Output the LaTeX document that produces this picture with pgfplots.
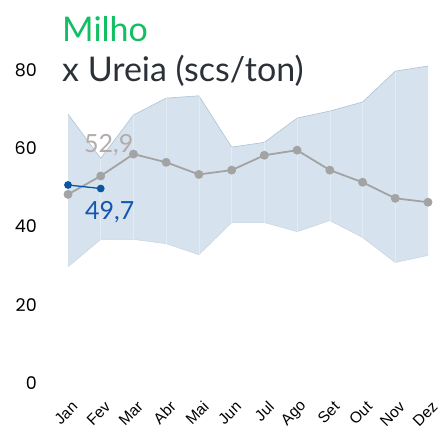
\documentclass[border=0pt]{standalone}
\usepackage{pgfplots}
\pgfplotsset{compat=1.18}
\usepgfplotslibrary{fillbetween}
\usepackage{fontspec}
\setmainfont{Liberation Sans}
\newfontfamily\titlefont{Lato}
\newfontfamily\tickfont{Poppins}
\definecolor{bandfill}{HTML}{D6E2EE}
\definecolor{bandedge}{HTML}{AFC2D4}
\definecolor{avggray}{HTML}{A3A3A3}
\definecolor{curblue}{HTML}{0A56A0}
\definecolor{titlegreen}{HTML}{12C063}
\definecolor{titledark}{HTML}{2B3138}
\definecolor{labgray}{HTML}{B3ACAA}
\definecolor{labblue}{HTML}{1556B0}
\begin{document}
\begin{tikzpicture}
\path (0pt,0pt) rectangle (441pt,435pt);
\node[anchor=base west, inner sep=0, text=titlegreen, font=\titlefont\fontsize{34}{34}\selectfont] at (62pt,393pt) {Milho};
\node[anchor=base west, inner sep=0, text=titledark, font=\titlefont\fontsize{34}{34}\selectfont] at (62pt,353pt) {x Ureia (scs/ton)};
\begin{axis}[
  at={(68pt,52pt)}, anchor=south west, scale only axis,
  width=360pt, height=332.6pt,
  xmin=0, xmax=11, ymin=0, ymax=85,
  clip=false,
  axis line style={draw=none}, tick style={draw=none},
  ytick={0,20,40,60,80},
  xtick={0,...,11},
  xticklabels={Jan,Fev,Mar,Abr,Mai,Jun,Jul,Ago,Set,Out,Nov,Dez},
  /pgf/number format/assume math mode=true,
  y tick label style={font=\tickfont\fontsize{17.5}{17.5}\selectfont, anchor=east, inner sep=0pt, xshift=-31pt, text=black},
  x tick label style={font=\fontsize{15.5}{15.5}\selectfont, inner sep=0pt, text=black, xshift=7pt, yshift=-21pt, rotate=45, anchor=east},
]
\addplot[name path=U, draw=bandedge, line width=0.6pt] coordinates {
  (0,68.7) (1,57.4) (2,68.5) (3,72.8) (4,73.4) (5,60.3) (6,61.5) (7,67.7) (8,69.5) (9,71.8) (10,79.7) (11,81.0)};
\addplot[name path=L, draw=bandedge!70, line width=0.5pt] coordinates {
  (0,29.7) (1,36.7) (2,36.7) (3,35.6) (4,32.8) (5,41.0) (6,41.0) (7,38.7) (8,41.5) (9,37.2) (10,30.8) (11,32.6)};
\addplot[bandfill] fill between[of=U and L];
\addplot[ycomb, draw=white, opacity=0.35, line width=0.5pt, mark=none] coordinates {
  (1,57.4) (2,68.5) (3,72.8) (4,73.4) (5,60.3) (6,61.5) (7,67.7) (8,69.5) (9,71.8) (10,79.7)};
\addplot[avggray, line width=1.8pt, mark=*, mark size=3.5pt, mark options={fill=avggray, draw=avggray}] coordinates {
  (0,48.2) (1,52.9) (2,58.5) (3,56.4) (4,53.3) (5,54.4) (6,58.2) (7,59.5) (8,54.4) (9,51.3) (10,47.2) (11,46.2)};
\addplot[curblue, line width=1.3pt, mark=*, mark size=3.2pt, mark options={fill=curblue, draw=curblue}] coordinates {
  (0,50.6) (1,49.7)};
\node[text=labgray, font=\titlefont\fontsize{25}{25}\selectfont, inner sep=0] at (axis cs:1,52.9) [xshift=8pt, yshift=31pt] {52,9};
\node[text=labblue, font=\titlefont\fontsize{25}{25}\selectfont, inner sep=0] at (axis cs:1,49.7) [xshift=9pt, yshift=-23.5pt] {49,7};
\end{axis}
\end{tikzpicture}
\end{document}
